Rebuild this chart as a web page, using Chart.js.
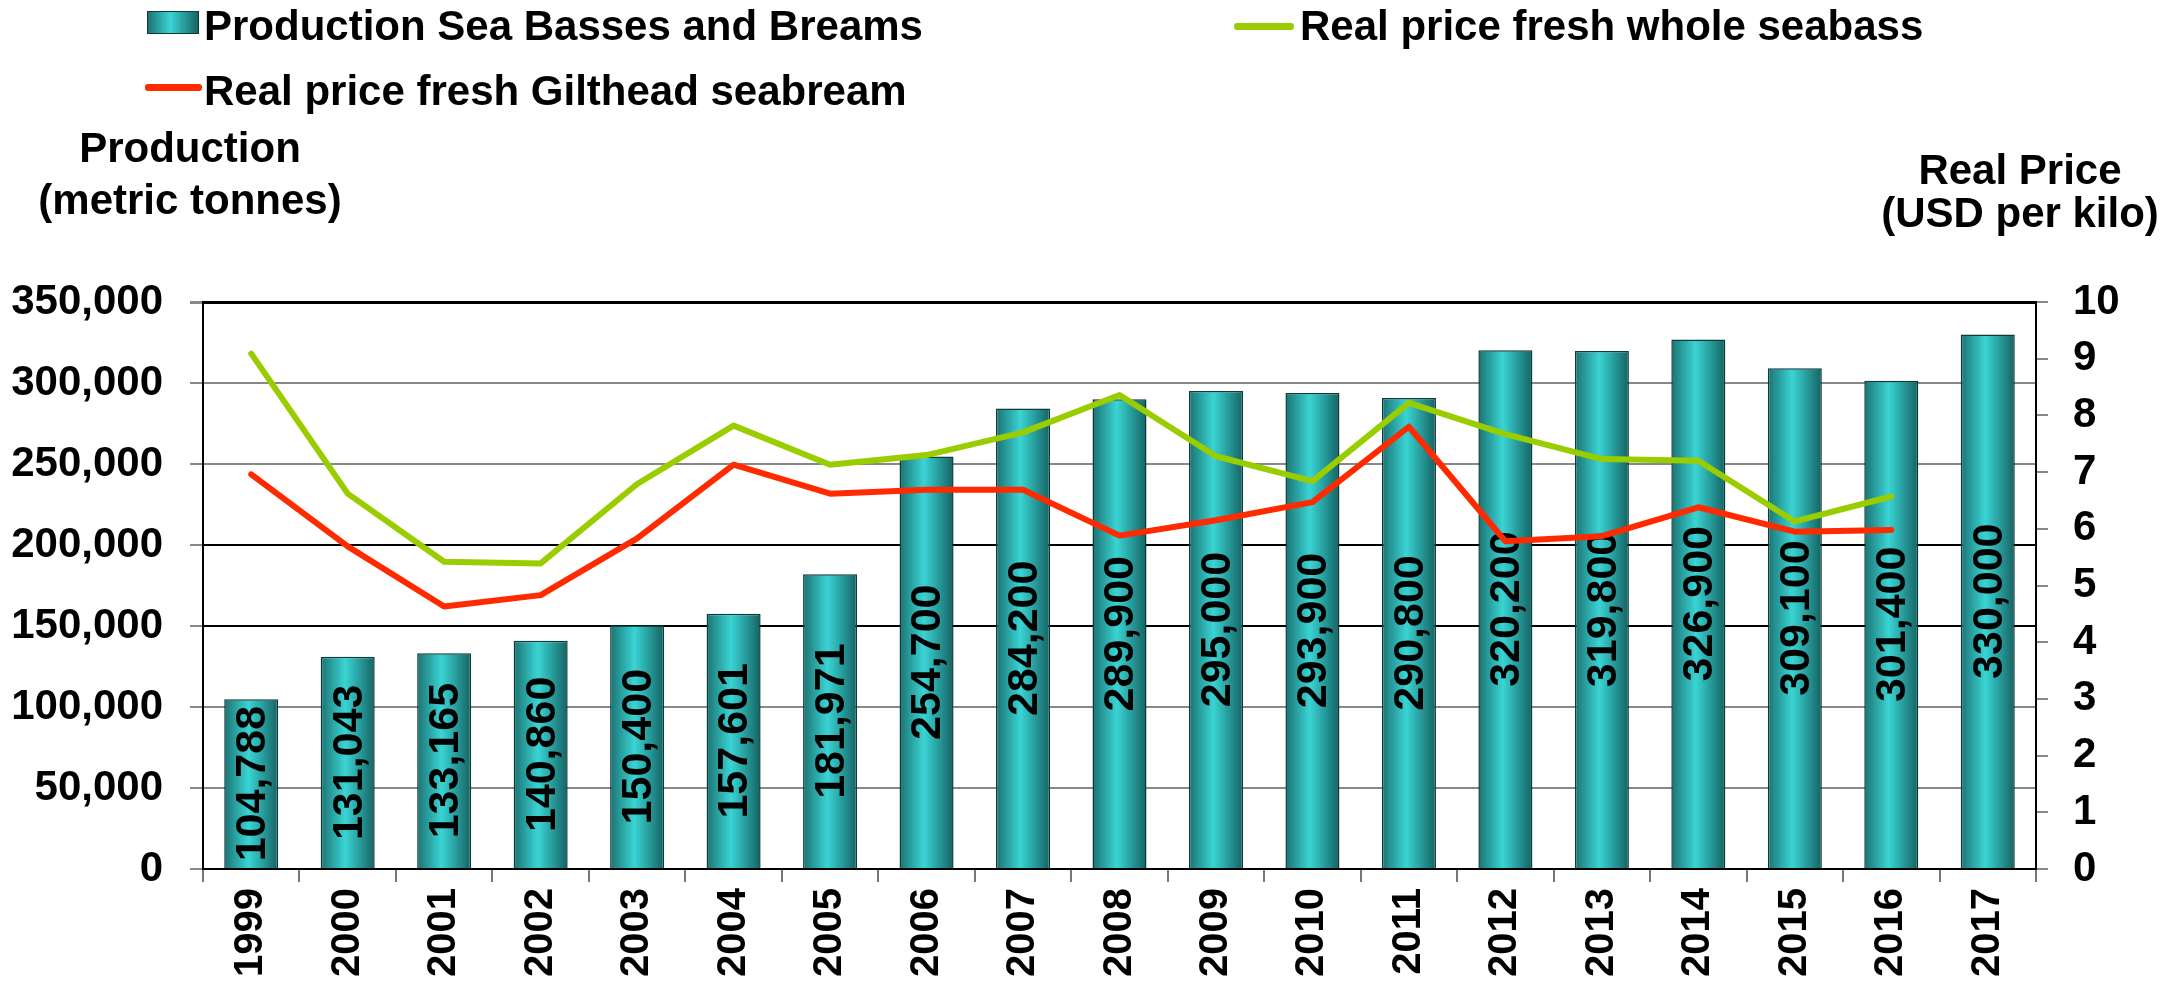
<!DOCTYPE html>
<html>
<head>
<meta charset="utf-8">
<script src="https://cdn.jsdelivr.net/npm/chart.js@4"></script>
<style>
  body { margin:0; background:#fff; }
  #wrap { position:relative; width:2181px; height:990px; font-family:"Liberation Sans", Arial, sans-serif; font-weight:bold; }
  #wrap canvas { position:absolute; left:0; top:0; }
  .t { position:absolute; font-size:42px; line-height:42px; white-space:nowrap; color:#000; }
  .c { transform:translateX(-50%); }
  .key { position:absolute; }
</style>
</head>
<body>
<div id="wrap">
  <canvas id="chart" width="2181" height="990"></canvas>
  <div class="key" style="left:147px;top:11px;width:50px;height:21px;border:1px solid #0b3b3b;background:linear-gradient(to right,#1d7474,#3ad4d4 45%,#176464);"></div>
  <div class="t" style="left:204px;top:5px;">Production Sea Basses and Breams</div>
  <div class="key" style="left:1234px;top:23px;width:60px;height:7px;background:#9acd00;border-radius:3px;"></div>
  <div class="t" style="left:1300px;top:5px;">Real price fresh whole seabass</div>
  <div class="key" style="left:145px;top:84px;width:57px;height:7px;background:#ff2a00;border-radius:3px;"></div>
  <div class="t" style="left:204px;top:70px;">Real price fresh Gilthead seabream</div>
  <div class="t c" style="left:190px;top:127px;">Production</div>
  <div class="t c" style="left:190px;top:179px;">(metric tonnes)</div>
  <div class="t c" style="left:2020px;top:149px;">Real Price</div>
  <div class="t c" style="left:2020px;top:192px;">(USD per kilo)</div>
</div>
<script>
const years = ['1999','2000','2001','2002','2003','2004','2005','2006','2007','2008','2009','2010','2011','2012','2013','2014','2015','2016','2017'];
const production = [104788,131043,133165,140860,150400,157601,181971,254700,284200,289900,295000,293900,290800,320200,319800,326900,309100,301400,330000];
const seabassPrice = [9.09,6.62,5.42,5.39,6.79,7.82,7.13,7.30,7.70,8.36,7.28,6.84,8.22,7.67,7.23,7.20,6.13,6.57,null];
const seabreamPrice = [6.96,5.69,4.63,4.83,5.83,7.13,6.62,6.69,6.69,5.88,6.15,6.47,7.80,5.78,5.87,6.38,5.95,5.98,null];

const FONT = '"Liberation Sans", Arial, sans-serif';
const BAR_PCT = 0.56;

function barGradient(c){
  const chart = c.chart, area = chart.chartArea;
  if (c.type !== 'data' || !area) return '#2bbcbc';
  const x = chart.scales.x.getPixelForValue(c.dataIndex);
  const w = (area.right - area.left) / years.length * BAR_PCT;
  const g = chart.ctx.createLinearGradient(x - w/2, 0, x + w/2, 0);
  g.addColorStop(0, '#1c7272');
  g.addColorStop(0.45, '#3ad4d4');
  g.addColorStop(1, '#156262');
  return g;
}

const barLabels = {
  id: 'barLabels',
  afterDatasetDraw(chart, args){
    if (args.index !== 0) return;
    const ctx = chart.ctx;
    args.meta.data.forEach((el, i) => {
      ctx.save();
      ctx.translate(el.x, (el.y + el.base) / 2);
      ctx.rotate(-Math.PI / 2);
      ctx.font = 'bold 43px ' + FONT;
      ctx.fillStyle = '#000';
      ctx.textAlign = 'center';
      ctx.textBaseline = 'middle';
      ctx.fillText(production[i].toLocaleString('en-US'), 0, 2);
      ctx.restore();
    });
  }
};

new Chart(document.getElementById('chart'), {
  data: {
    labels: years,
    datasets: [
      { type:'bar', label:'Production Sea Basses and Breams', data: production, yAxisID:'y', order:3,
        backgroundColor: barGradient, borderColor:'#0b3b3b', borderWidth:1.5,
        categoryPercentage:1, barPercentage:BAR_PCT },
      { type:'line', label:'Real price fresh whole seabass', data: seabassPrice, yAxisID:'y1', order:1,
        borderColor:'#9acd00', borderWidth:6, pointRadius:0, tension:0, borderCapStyle:'round', borderJoinStyle:'round', fill:false },
      { type:'line', label:'Real price fresh Gilthead seabream', data: seabreamPrice, yAxisID:'y1', order:2,
        borderColor:'#ff2a00', borderWidth:6, pointRadius:0, tension:0, borderCapStyle:'round', borderJoinStyle:'round', fill:false }
    ]
  },
  options: {
    responsive:false, animation:false,
    layout:{ padding:{ top:302, left:0, right:0, bottom:0 } },
    plugins:{ legend:{ display:false }, tooltip:{ enabled:false } },
    scales:{
      x:{
        offset:true,
        grid:{ offset:true, drawOnChartArea:false, tickLength:13, tickColor:'#777', lineWidth:2 },
        border:{ color:'#000', width:2 },
        ticks:{ color:'#000', font:{ family:FONT, size:40, weight:'bold' }, minRotation:90, maxRotation:90, padding:6 },
        afterFit(s){ s.height = 121; }
      },
      y:{
        position:'left', min:0, max:350000,
        ticks:{ stepSize:50000, color:'#000', padding:27, font:{ family:FONT, size:42, weight:'bold' },
          callback: v => v.toLocaleString('en-US') },
        grid:{
          tickLength:13, tickColor:'#888',
          color: c => (c.tick && [150000,200000,350000].includes(c.tick.value)) ? '#000' : '#888',
          lineWidth: c => (c.tick && c.tick.value === 350000) ? 3 : 2
        },
        border:{ color:'#000', width:2 },
        afterFit(s){ s.width = 203; }
      },
      y1:{
        position:'right', min:0, max:10,
        ticks:{ stepSize:1, color:'#000', padding:25, font:{ family:FONT, size:42, weight:'bold' } },
        grid:{ drawOnChartArea:false, tickLength:12, tickColor:'#888', lineWidth:2 },
        border:{ color:'#000', width:2 },
        afterFit(s){ s.width = 145; }
      }
    }
  },
  plugins:[barLabels]
});
</script>
</body>
</html>
